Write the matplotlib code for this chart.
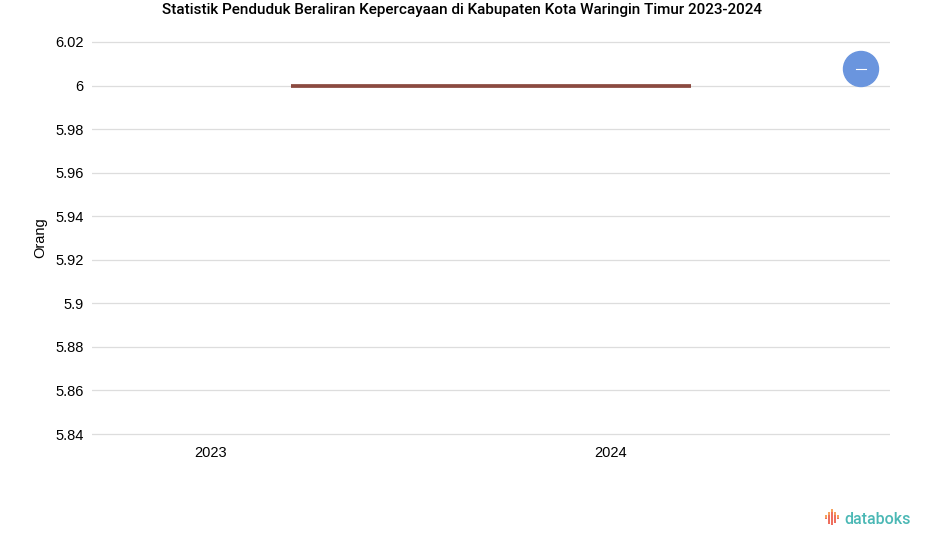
import matplotlib.pyplot as plt
from matplotlib.patches import Ellipse, Rectangle

# data
years = ["2023", "2024"]
values = [6, 6]
y_ticks = [5.84, 5.86, 5.88, 5.9, 5.92, 5.94, 5.96, 5.98, 6, 6.02]
y_labels = ["5.84", "5.86", "5.88", "5.9", "5.92", "5.94", "5.96", "5.98", "6", "6.02"]


def main() -> None:
    W, H = 925, 547
    fig = plt.figure(figsize=(W / 100, H / 100), dpi=100)

    # plot area in pixels: x 92..890, y 41..435
    ax = fig.add_axes([92 / W, (H - 436) / H, (890 - 92) / W, (436 - 40) / H])

    x = list(range(len(years)))
    ax.plot(x, values, color="#8b4a40", linewidth=2.7, solid_capstyle="butt", zorder=3)

    ax.set_xlim(-0.4975, 1.4975)
    ax.set_ylim(5.8391, 6.0209)
    ax.set_yticks(y_ticks)
    ax.set_yticklabels(y_labels, fontsize=10.5, family="Liberation Sans")
    # category labels sit to the left of the points
    ax.set_xticks([i - 0.2 for i in x])
    ax.set_xticklabels(years, fontsize=10.5, family="Liberation Sans")
    ax.tick_params(length=0)
    ax.tick_params(axis="x", pad=7)
    ax.tick_params(axis="y", pad=6)
    ax.grid(axis="y", color="#dddddd", linewidth=0.9)
    ax.set_axisbelow(True)
    for s in ax.spines.values():
        s.set_visible(False)
    ax.set_ylabel("Orang", fontsize=10.5, family="Liberation Sans", labelpad=6)

    fig.text(462 / W, 1 - 10 / H, "Statistik Penduduk Beraliran Kepercayaan di Kabupaten Kota Waringin Timur 2023-2024",
             ha="center", va="center", fontsize=11.0, family="Roboto", fontweight="medium")

    # blue zoom button
    fig.patches.append(Ellipse((861 / W, 1 - 69 / H), 35 / W, 35 / H, transform=fig.transFigure,
                               color="#6a95de", zorder=5))
    fig.lines.append(plt.Line2D([856 / W, 866 / W], [1 - 69 / H, 1 - 69 / H],
                                transform=fig.transFigure, color="white", linewidth=0.8, zorder=6))

    # databoks logo
    bars = [(825, 515, 4), (828, 512, 12), (831, 509, 16), (834, 512, 11), (837, 515, 4)]
    for bx, by, bh in bars:
        fig.patches.append(Rectangle((bx / W, 1 - (by + bh) / H), 2 / W, bh / H,
                                     transform=fig.transFigure, color="#ee6f5e", lw=0))
        fig.patches.append(Rectangle((bx / W, 1 - (by + 3) / H), 2 / W, 3 / H,
                                     transform=fig.transFigure, color="#f5a25d", lw=0))
    fig.text(844 / W, 1 - 519 / H, "databoks", ha="left", va="center", fontsize=11.5,
             color="#4bb8b5", family="Roboto", fontweight="medium")

    fig.savefig("out.png", dpi=100)


if __name__ == '__main__':
    main()
